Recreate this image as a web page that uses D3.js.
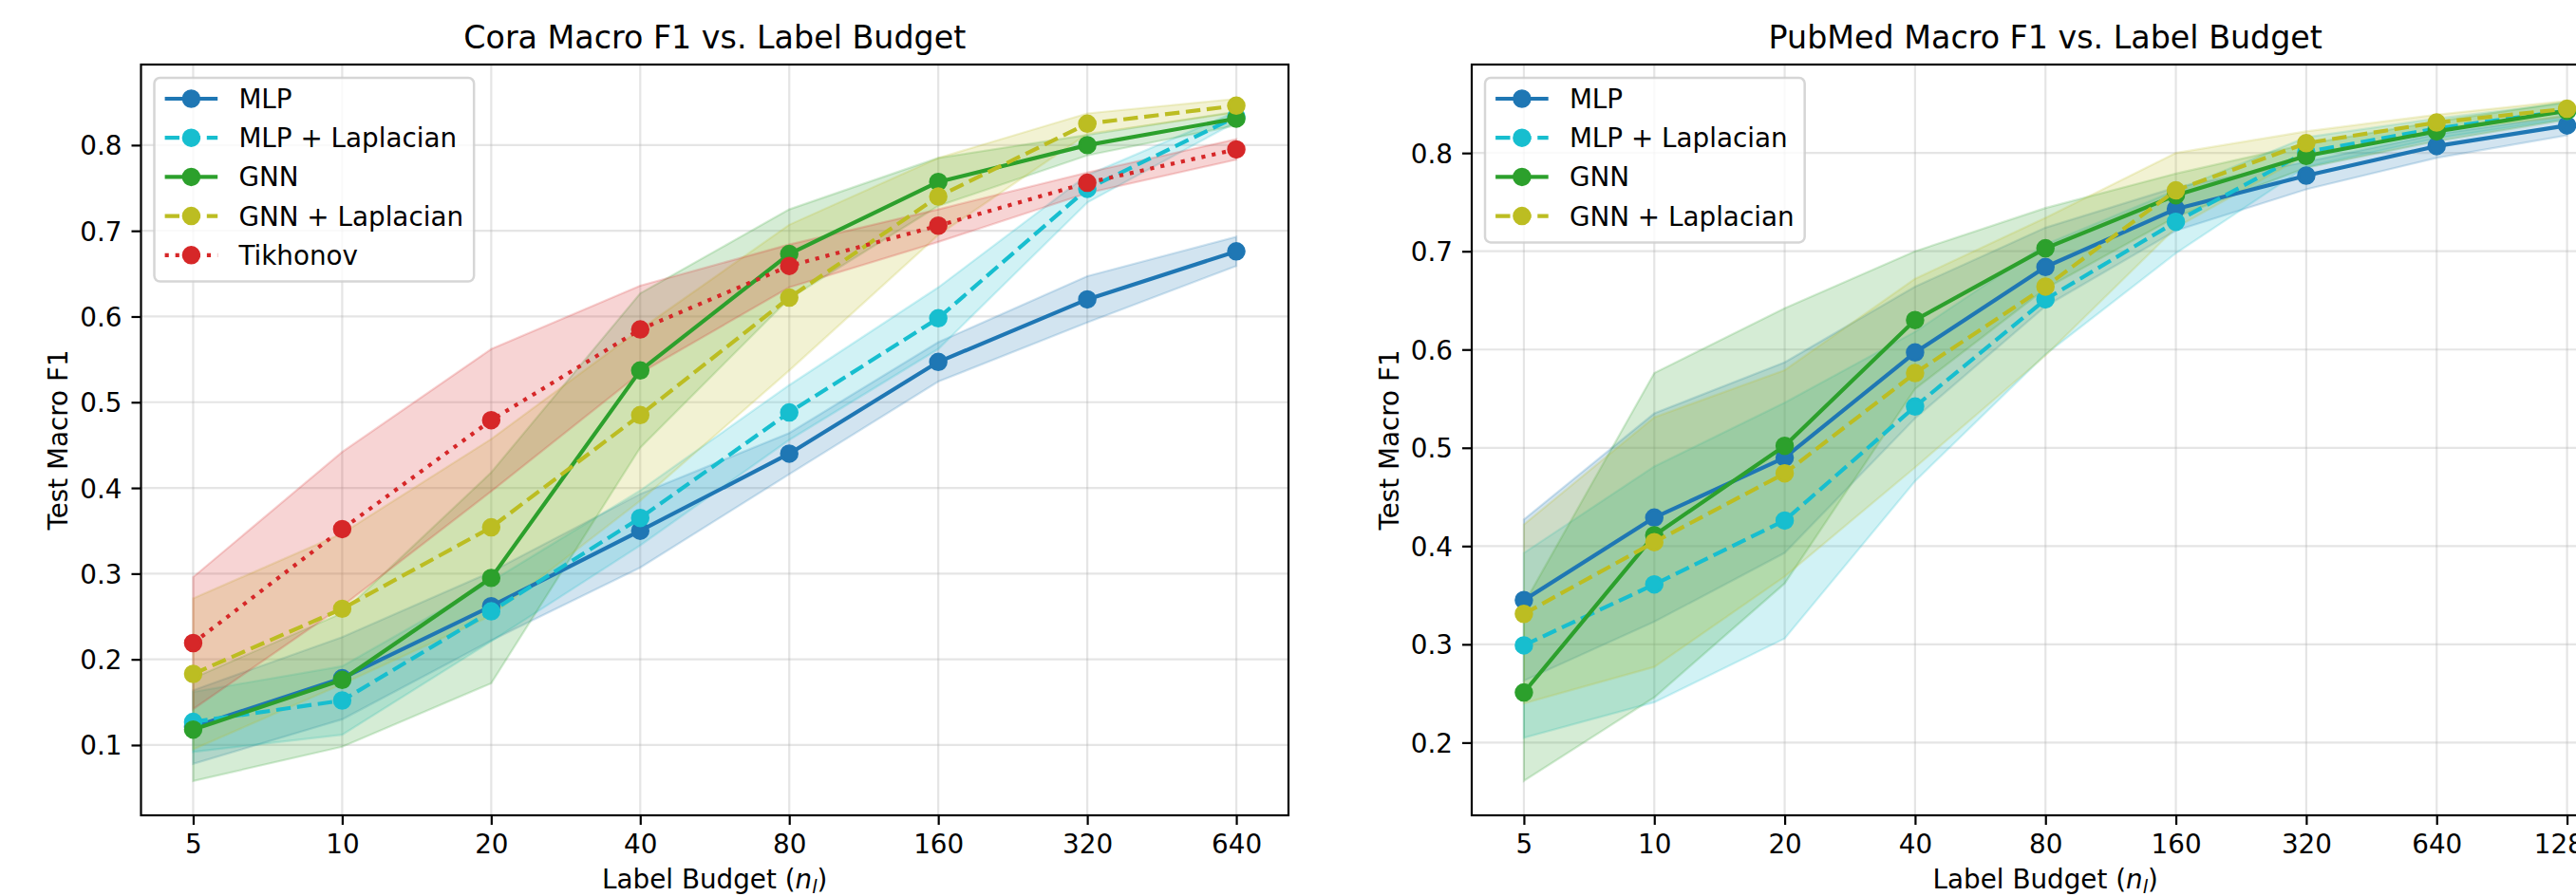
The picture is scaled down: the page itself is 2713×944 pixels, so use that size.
<!DOCTYPE html>
<html>
<head>
<meta charset="utf-8">
<script src="https://cdn.jsdelivr.net/npm/d3@7"></script>
<style>
  body { margin: 0; background: #fff; }
  svg { display: block; }
  text { font-family: "DejaVu Sans", sans-serif; fill: #000; }
</style>
</head>
<body>
<svg id="chart" width="2713" height="944"></svg>
<script>
// ---- data ----
var seriesNames = ["MLP", "MLP + Laplacian", "GNN", "GNN + Laplacian", "Tikhonov"];
var seriesColors = ["#1f77b4", "#17becf", "#2ca02c", "#bcbd22", "#d62728"];

var coraBudgets = [5, 10, 20, 40, 80, 160, 320, 640];
var coraMLP      = [0.121, 0.178, 0.262, 0.350, 0.440, 0.547, 0.620, 0.676];
var coraMLPStd   = [0.043, 0.048, 0.040, 0.043, 0.024, 0.023, 0.027, 0.017];
var coraMLPLap   = [0.127, 0.152, 0.256, 0.365, 0.488, 0.598, 0.749, 0.833];
var coraMLPLapStd= [0.035, 0.040, 0.035, 0.032, 0.032, 0.036, 0.016, 0.006];
var coraGNN      = [0.118, 0.176, 0.295, 0.537, 0.673, 0.757, 0.800, 0.831];
var coraGNNStd   = [0.060, 0.078, 0.123, 0.090, 0.052, 0.028, 0.012, 0.008];
var coraGNNLap   = [0.183, 0.259, 0.354, 0.485, 0.622, 0.740, 0.825, 0.846];
var coraGNNLapStd= [0.088, 0.088, 0.103, 0.100, 0.085, 0.045, 0.012, 0.008];
var coraTikh     = [0.219, 0.352, 0.479, 0.585, 0.659, 0.706, 0.756, 0.795];
var coraTikhStd  = [0.077, 0.090, 0.083, 0.051, 0.025, 0.019, 0.012, 0.012];
var coraYTicks   = [0.1, 0.2, 0.3, 0.4, 0.5, 0.6, 0.7, 0.8];

var pubBudgets = [5, 10, 20, 40, 80, 160, 320, 640, 1280];
var pubMLP       = [0.345, 0.429, 0.490, 0.597, 0.684, 0.743, 0.777, 0.807, 0.828];
var pubMLPStd    = [0.082, 0.106, 0.097, 0.067, 0.040, 0.022, 0.014, 0.012, 0.010];
var pubMLPLap    = [0.299, 0.361, 0.426, 0.542, 0.651, 0.730, 0.801, 0.825, 0.843];
var pubMLPLapStd = [0.094, 0.120, 0.120, 0.076, 0.056, 0.032, 0.015, 0.010, 0.008];
var pubGNN       = [0.251, 0.411, 0.502, 0.630, 0.703, 0.757, 0.797, 0.822, 0.843];
var pubGNNStd    = [0.090, 0.165, 0.140, 0.070, 0.041, 0.022, 0.012, 0.010, 0.009];
var pubGNNLap    = [0.331, 0.404, 0.474, 0.576, 0.664, 0.762, 0.810, 0.831, 0.845];
var pubGNNLapStd = [0.091, 0.127, 0.105, 0.096, 0.070, 0.038, 0.012, 0.008, 0.008];
var pubYTicks    = [0.2, 0.3, 0.4, 0.5, 0.6, 0.7, 0.8];

// ---- layout ----
var svg = d3.select("#chart");
var axTop = 68, axBottom = 859, axW = 1208.5;
var fs = 27.8;          // 10pt at this dpi
var lw = 4.17;          // 1.5pt
var dashStyles = [null, [15.4, 6.7], null, [15.4, 6.7], [4.17, 6.9]];

function panel(cfg) {
  var n = cfg.budgets.length;
  var pad = Math.pow(2, 0.05 * (n - 1));
  var x = d3.scaleLog().base(2)
      .domain([cfg.budgets[0] / pad, cfg.budgets[n - 1] * pad])
      .range([cfg.left, cfg.left + axW]);
  var y = d3.scaleLinear().domain(cfg.yDomain).range([axBottom, axTop]);

  var g = svg.append("g");
  var clipId = "clip" + cfg.id;
  svg.append("clipPath").attr("id", clipId).append("rect")
    .attr("x", cfg.left).attr("y", axTop).attr("width", axW).attr("height", axBottom - axTop);

  // grid
  var grid = g.append("g").attr("stroke", "#b0b0b0").attr("stroke-opacity", 0.33).attr("stroke-width", 2.2);
  grid.selectAll(".gx").data(cfg.budgets).enter().append("line")
    .attr("x1", d => x(d)).attr("x2", d => x(d)).attr("y1", axTop).attr("y2", axBottom);
  grid.selectAll(".gy").data(cfg.yTicks).enter().append("line")
    .attr("x1", cfg.left).attr("x2", cfg.left + axW).attr("y1", d => y(d)).attr("y2", d => y(d));

  var plot = g.append("g").attr("clip-path", "url(#" + clipId + ")");

  // bands first (below all lines)
  cfg.series.forEach(function(s, i) {
    var pts = cfg.budgets.map((b, j) => ({b: b, lo: s.mean[j] - s.std[j], hi: s.mean[j] + s.std[j]}));
    plot.append("path").datum(pts)
      .attr("d", d3.area().x(d => x(d.b)).y0(d => y(d.lo)).y1(d => y(d.hi)))
      .attr("fill", seriesColors[i]).attr("fill-opacity", 0.2)
      .attr("stroke", seriesColors[i]).attr("stroke-opacity", 0.2).attr("stroke-width", 2.2);
  });

  // lines + markers
  cfg.series.forEach(function(s, i) {
    var pts = cfg.budgets.map((b, j) => ({b: b, v: s.mean[j]}));
    var p = plot.append("path").datum(pts)
      .attr("d", d3.line().x(d => x(d.b)).y(d => y(d.v)))
      .attr("fill", "none").attr("stroke", seriesColors[i]).attr("stroke-width", lw)
      .attr("stroke-linejoin", "round");
    if (dashStyles[i]) p.attr("stroke-dasharray", dashStyles[i].join(",")).attr("stroke-linecap", "butt");
    else p.attr("stroke-linecap", "square");
    plot.selectAll(".m" + i).data(pts).enter().append("circle")
      .attr("cx", d => x(d.b)).attr("cy", d => y(d.v)).attr("r", 8.35)
      .attr("fill", seriesColors[i]).attr("stroke", seriesColors[i]).attr("stroke-width", 2.78);
  });

  // spines
  g.append("rect").attr("x", cfg.left).attr("y", axTop).attr("width", axW).attr("height", axBottom - axTop)
    .attr("fill", "none").attr("stroke", "#000").attr("stroke-width", 2.2);

  // axes
  var xa = g.append("g").attr("transform", "translate(0," + axBottom + ")")
    .call(d3.axisBottom(x).tickValues(cfg.budgets).tickFormat(d3.format("d")).tickSize(10).tickPadding(10.3));
  var ya = g.append("g").attr("transform", "translate(" + cfg.left + ",0)")
    .call(d3.axisLeft(y).tickValues(cfg.yTicks).tickFormat(d3.format(".1f")).tickSize(10).tickPadding(10));
  [xa, ya].forEach(function(a) {
    a.select(".domain").remove();
    a.selectAll(".tick line").attr("stroke", "#000").attr("stroke-width", 2.2);
    a.selectAll(".tick text").attr("font-size", fs).attr("font-family", "DejaVu Sans").attr("fill", "#000");
  });
  ya.selectAll(".tick text").attr("dy", "0.36em");

  var cx = cfg.left + axW / 2;
  g.append("text").attr("x", cx).attr("y", 51).attr("text-anchor", "middle")
    .attr("font-size", 33.3).text(cfg.title);

  g.append("text").attr("transform", "translate(" + (cfg.left - 77.5) + "," + ((axTop + axBottom) / 2) + ") rotate(-90)")
    .attr("text-anchor", "middle").attr("font-size", fs).text("Test Macro F1");

  var xl = g.append("text").attr("x", cx).attr("y", 936).attr("text-anchor", "middle").attr("font-size", fs);
  xl.append("tspan").text("Label Budget (");
  xl.append("tspan").attr("font-style", "italic").text("n");
  xl.append("tspan").attr("font-style", "italic").attr("font-size", fs * 0.7).attr("dy", 5).text("l");
  xl.append("tspan").attr("dy", -5).text(")");

  // legend
  var bx = cfg.left + 14, by = axTop + 14, rowH = 41.2;
  var lg = g.append("g");
  var frame = lg.append("rect").attr("x", bx).attr("y", by).attr("rx", 6).attr("ry", 6)
    .attr("height", cfg.series.length * rowH + 8.6)
    .attr("fill", "#fff").attr("fill-opacity", 0.8)
    .attr("stroke", "#cccccc").attr("stroke-opacity", 0.8).attr("stroke-width", 2.5);
  var maxW = 0;
  cfg.series.forEach(function(s, i) {
    var cy = by + 22 + i * rowH;
    var l = lg.append("line").attr("x1", bx + 11.1).attr("x2", bx + 66.7).attr("y1", cy).attr("y2", cy)
      .attr("stroke", seriesColors[i]).attr("stroke-width", lw);
    if (dashStyles[i]) l.attr("stroke-dasharray", dashStyles[i].join(",")).attr("stroke-linecap", "butt");
    lg.append("circle").attr("cx", bx + 38.9).attr("cy", cy).attr("r", 8.35)
      .attr("fill", seriesColors[i]).attr("stroke", seriesColors[i]).attr("stroke-width", 2.78);
    var t = lg.append("text").attr("x", bx + 88.9).attr("y", cy).attr("dy", "0.36em")
      .attr("font-size", fs).text(seriesNames[i]);
    maxW = Math.max(maxW, t.node().getComputedTextLength());
  });
  frame.attr("width", maxW + 88.9 + 11.1);
}

panel({
  id: "cora", left: 148.5, title: "Cora Macro F1 vs. Label Budget",
  budgets: coraBudgets, yDomain: [0.018, 0.894], yTicks: coraYTicks,
  series: [
    {mean: coraMLP, std: coraMLPStd},
    {mean: coraMLPLap, std: coraMLPLapStd},
    {mean: coraGNN, std: coraGNNStd},
    {mean: coraGNNLap, std: coraGNNLapStd},
    {mean: coraTikh, std: coraTikhStd}
  ]
});

panel({
  id: "pub", left: 1550, title: "PubMed Macro F1 vs. Label Budget",
  budgets: pubBudgets, yDomain: [0.126, 0.890], yTicks: pubYTicks,
  series: [
    {mean: pubMLP, std: pubMLPStd},
    {mean: pubMLPLap, std: pubMLPLapStd},
    {mean: pubGNN, std: pubGNNStd},
    {mean: pubGNNLap, std: pubGNNLapStd}
  ]
});
</script>
</body>
</html>
